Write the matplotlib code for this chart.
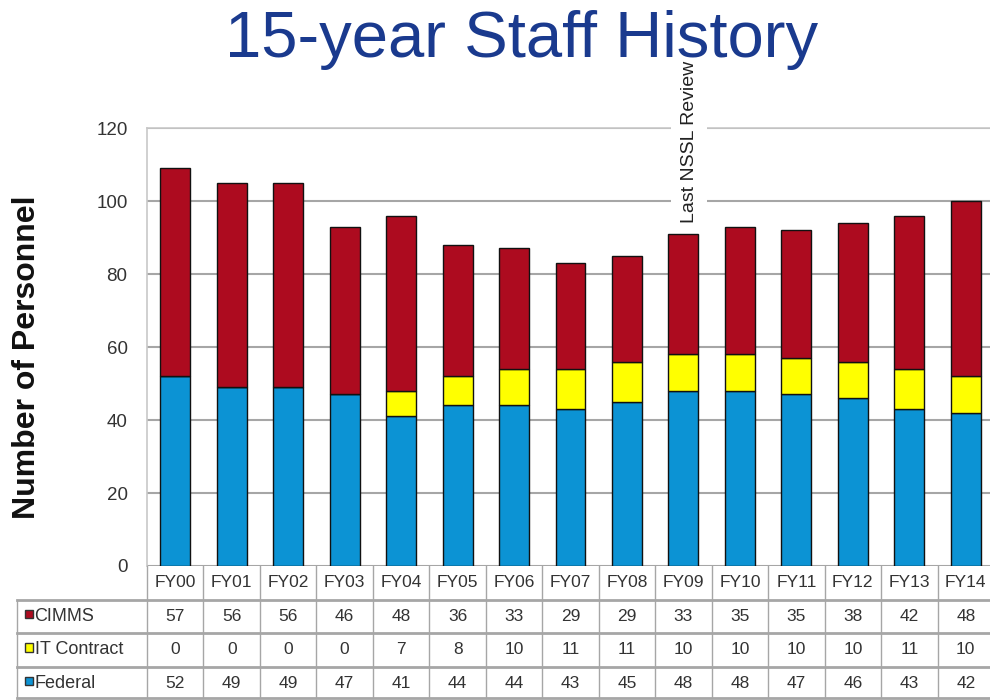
import matplotlib.pyplot as plt
from matplotlib.patches import Rectangle

plt.rcParams['font.family'] = ['Liberation Sans', 'DejaVu Sans']

years = ['FY00', 'FY01', 'FY02', 'FY03', 'FY04', 'FY05', 'FY06', 'FY07',
         'FY08', 'FY09', 'FY10', 'FY11', 'FY12', 'FY13', 'FY14']
cimms = [57, 56, 56, 46, 48, 36, 33, 29, 29, 33, 35, 35, 38, 42, 48]
it_contract = [0, 0, 0, 0, 7, 8, 10, 11, 11, 10, 10, 10, 10, 11, 10]
federal = [52, 49, 49, 47, 41, 44, 44, 43, 45, 48, 48, 47, 46, 43, 42]

c_red = '#AD0B1F'
c_yel = '#FFFF00'
c_blu = '#0C93D4'
grid_c = '#A6A6A6'
text_c = '#333333'

W, H = 990, 700
fig = plt.figure(figsize=(W / 100, H / 100), dpi=100)

# pixel layout
left_px, right_px = 147, 994
top_px, zero_px = 128, 566
col_px = (right_px - left_px) / 15

ax = fig.add_axes([left_px / W, 1 - zero_px / H,
                   (right_px - left_px) / W, (zero_px - top_px) / H])
x = list(range(len(years)))
bw = 0.53
ax.bar(x, federal, bw, color=c_blu, edgecolor='#111111', linewidth=1, zorder=3)
ax.bar(x, it_contract, bw, bottom=federal, color=c_yel, edgecolor='#111111',
       linewidth=1, zorder=3)
bottoms = [f + i for f, i in zip(federal, it_contract)]
ax.bar(x, cimms, bw, bottom=bottoms, color=c_red, edgecolor='#111111',
       linewidth=1, zorder=3)

ax.set_xlim(-0.5, 14.5)
ax.set_ylim(0, 120)
ax.set_yticks(range(0, 121, 20))
ax.yaxis.grid(True, color=grid_c, linewidth=1.5, zorder=0)
ax.set_axisbelow(True)
ax.tick_params(axis='y', length=0, pad=14, labelsize=13.5, labelcolor=text_c)
ax.set_xticks([])
for s in ['right', 'bottom']:
    ax.spines[s].set_visible(False)
for s in ['left', 'top']:
    ax.spines[s].set_color('#C8C8C8')
    ax.spines[s].set_linewidth(1.2)

ax.text(9.1, 94, 'Last NSSL Review', rotation=90, ha='center', va='bottom',
        fontsize=14, color='#222222', clip_on=False, zorder=5,
        bbox=dict(facecolor='white', edgecolor='none', pad=7))

# table below the bars
tab = fig.add_axes([left_px / W, 0, (right_px - left_px) / W, (H - zero_px) / H])
tab.set_xlim(-0.5, 14.5)
tab.set_ylim(4, 0)
tab.axis('off')

lab_left = -0.5 - (left_px - 17) / col_px
rows = [('CIMMS', cimms, c_red), ('IT Contract', it_contract, c_yel),
        ('Federal', federal, c_blu)]
fs = 12.5

for i, yr in enumerate(years):
    tab.text(i, 0.5, yr, ha='center', va='center', fontsize=fs, color=text_c)
for r, (name, vals, col) in enumerate(rows):
    yc = r + 1.5
    for i, v in enumerate(vals):
        tab.text(i, yc, str(v), ha='center', va='center', fontsize=fs,
                 color=text_c)
    tab.add_patch(Rectangle((lab_left + 0.14, yc - 0.2), 0.14, 0.26,
                            facecolor=col, edgecolor='#333333', linewidth=1,
                            clip_on=False))
    tab.text(lab_left + 0.31, yc, name, ha='left', va='center', fontsize=13,
             color=text_c, clip_on=False)

# grid lines of the table
for b in range(len(years) + 1):
    tab.plot([b - 0.5, b - 0.5], [0, 3.95], color=grid_c, linewidth=1,
             clip_on=False)
for yl in [1, 2, 3, 3.95]:
    tab.plot([lab_left, 14.5], [yl, yl], color=grid_c, linewidth=2,
             clip_on=False)
tab.plot([lab_left, lab_left], [1, 3.95], color=grid_c, linewidth=1,
         clip_on=False)

fig.text(27 / W, 1 - 357 / H, 'Number of Personnel', rotation=90, ha='center',
         va='center', fontsize=23, fontweight='bold', color='#111111')
fig.text(522 / W, 1 - 40 / H, '15-year Staff History', ha='center',
         va='center', fontsize=47, color='#1A3A8E')

fig.savefig('out.png', dpi=100)
